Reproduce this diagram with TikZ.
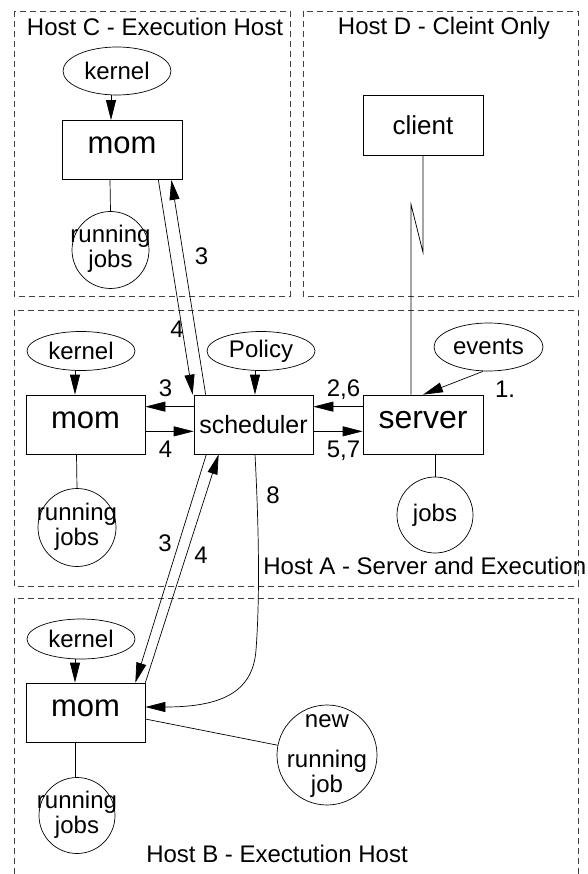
\documentclass[tikz,border=0pt]{standalone}
\usepackage{fontspec}
\setmainfont{Liberation Sans}
\usetikzlibrary{arrows.meta,shapes.geometric}

\newcommand{\twoline}[1]{\makebox[0pt]{\begin{tabular}{@{}c@{}}#1\end{tabular}}}

\begin{document}
\begin{tikzpicture}[x=1pt, y=-1pt,
		>={Triangle[length=20pt, width=10pt]},
		font=\fontsize{24}{25}\selectfont,
		line width=0.7pt,
		hostframe/.style={draw=black!75, dash pattern=on 6pt off 4pt, line width=0.7pt},
		procbox/.style={draw, rectangle, inner sep=0pt, minimum width=119pt, minimum height=59pt},
		srcoval/.style={draw, ellipse, inner sep=0pt, minimum width=108pt, minimum height=40pt},
		jobcircle/.style={draw, circle, inner sep=0pt, minimum size=77pt},
		steplabel/.style={anchor=base, inner sep=0pt},
		hosttitle/.style={anchor=base, inner sep=0pt}]
		\useasboundingbox (0, 0) rectangle (587, 874);
		
		\draw[hostframe] (14, 11) rectangle (290, 296);
		\draw[hostframe] (303, 11) rectangle (578, 296);
		\draw[hostframe] (14, 310) rectangle (578, 586);
		\draw[hostframe] (14, 874) -- (14, 598) -- (578, 598) -- (578, 874);
		
		\node[hosttitle] (titleC) at (155, 36) {Host C - Execution Host};
		\node[hosttitle] (titleD) at (444, 35) {Host D - Cleint Only};
		\node[hosttitle, anchor=base east] (titleA) at (586.5, 574) {Host A - Server and Execution};
		\node[hosttitle] (titleB) at (277, 862) {Host B - Exectution Host};
		
		% host C
		\node[srcoval, minimum height=48pt] (kernelC) at (117, 71) {kernel};
		\node[procbox, minimum width=120pt, font=\fontsize{31}{33}\selectfont, text depth=9pt] (momC) at (122, 150) {mom};
		\node[jobcircle] (jobsC) at (110.5, 250) {\twoline{running\\jobs}};
		
		% host D
		\node[procbox, minimum width=120pt, minimum height=60pt, font=\fontsize{26}{28}\selectfont] (client) at (423, 125) {client};
		
		% host A
		\node[srcoval, minimum height=39pt] (kernelA) at (81, 351) {kernel};
		\node[procbox, font=\fontsize{31}{33}\selectfont, text depth=9pt] (momA) at (85.5, 424.5) {mom};
		\node[jobcircle, minimum size=78pt] (jobsA) at (77, 527.5) {\twoline{running\\jobs}};
		\node[srcoval, minimum height=39pt] (policy) at (261, 351) {Policy};
		\node[procbox, font=\fontsize{25}{27}\selectfont] (sched) at (253.5, 424.5) {scheduler};
		\node[procbox, minimum width=120pt, font=\fontsize{32}{34}\selectfont, text depth=9pt] (server) at (423, 424.5) {server};
		\node[srcoval, minimum width=109pt, minimum height=48pt] (events) at (488.5, 347) {events};
		\node[jobcircle, minimum size=76pt] (jobsS) at (435, 515) {jobs};
		
		% host B
		\node[srcoval] (kernelB) at (81, 639) {kernel};
		\node[procbox, font=\fontsize{31}{33}\selectfont, text depth=9pt] (momB) at (85.5, 712.5) {mom};
		\node[jobcircle, minimum size=76pt] (jobsB) at (77, 815.5) {\twoline{running\\jobs}};
		\node[jobcircle, minimum size=100pt] (newjob) at (327, 755) {\twoline{new\\[15pt]running\\job}};
		
		% host C links
		\draw[->] ([xshift=-6pt]kernelC.south) -- ([xshift=-11pt]momC.north);
		\draw ([xshift=-12pt]momC.south) -- (jobsC.north);
		\draw[->] ([xshift=-24pt]momC.south east) -- ([xshift=-1pt]sched.north west);
		\draw[->] ([xshift=12pt]sched.north west) -- ([xshift=-11pt]momC.south east);
		\node[steplabel] (nC3) at (201.5, 265) {3};
		\node[steplabel] (nC4) at (177, 337) {4};
		
		% host A links
		\draw[->] ([xshift=-6pt]kernelA.south) -- ([xshift=-10.5pt]momA.north);
		\draw ([xshift=-9pt]momA.south) -- (jobsA.north);
		\draw[->] ([xshift=-6pt]policy.south) -- ([xshift=1.5pt]sched.north);
		\draw[->] ([yshift=-12pt]sched.north west) -- ([yshift=-12pt]momA.north east);
		\draw[->] ([yshift=23pt]momA.south east) -- ([yshift=23pt]sched.south west);
		\draw[->] ([yshift=-12pt]server.north west) -- ([yshift=-12pt]sched.north east);
		\draw[->] ([yshift=23pt]sched.south east) -- ([yshift=23pt]server.south west);
		\draw[->] ([xshift=-5.5pt]events.south) -- (server.north);
		\draw ([xshift=12pt]server.south) -- (jobsS.north);
		\draw (client.south) -- ++(0, 97) -- ++(-12, -48) -- ([xshift=-12pt]server.north);
		\node[steplabel] (nA3) at (165.5, 396) {3};
		\node[steplabel] (nA4) at (165.5, 457) {4};
		\node[steplabel] (nA26) at (343.5, 396) {2,6};
		\node[steplabel] (nA57) at (343.5, 457) {5,7};
		\node[steplabel] (nA1) at (505, 397) {1.};
		
		% host B links
		\draw[->] ([xshift=12.7pt]sched.south west) -- ([xshift=-10pt]momB.north east);
		\draw[->] (momB.north east) -- ([xshift=25pt]sched.south west);
		\draw[->] ([xshift=1.5pt]sched.south) .. controls (260, 550) and (259, 610) .. (256, 650)
			.. controls (253, 690) and (225, 707) .. ([yshift=5.5pt]momB.east);
		\draw ([yshift=-6.5pt]momB.east) -- (newjob);
		\draw[->] ([xshift=-6pt]kernelB.south) -- ([xshift=-10.5pt]momB.north);
		\draw ([xshift=-10.5pt]momB.south) -- ([xshift=-2pt]jobsB.north);
		\node[steplabel] (nB3) at (165, 551.5) {3};
		\node[steplabel] (nB4) at (201, 563.5) {4};
		\node[steplabel] (nB8) at (273, 503.5) {8};
	\end{tikzpicture}
\end{document}
